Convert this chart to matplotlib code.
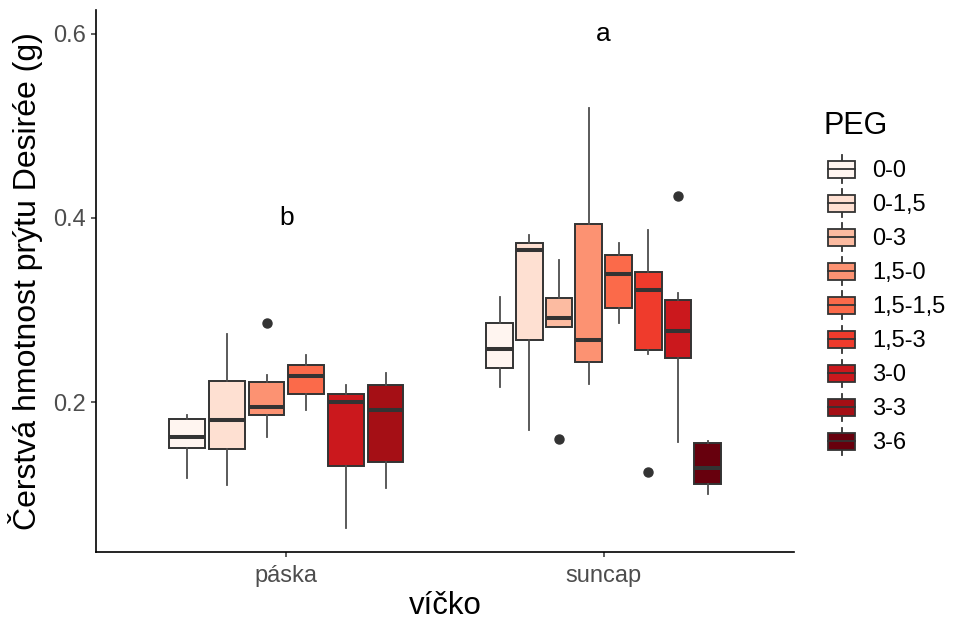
"""Boxplot čerstvé hmotnosti prýtu podle typu víčka a PEG varianty (ggplot vzhled)."""

import numpy as np
import matplotlib
matplotlib.use("Agg")
import matplotlib.pyplot as plt
from matplotlib.patches import Patch, Rectangle
from matplotlib.lines import Line2D
from matplotlib.legend_handler import HandlerBase

# --- Úrovně PEG a barvy (Reds, 9 tříd) ---
PEG_LEVELS = ["0-0", "0-1,5", "0-3", "1,5-0", "1,5-1,5", "1,5-3", "3-0", "3-3", "3-6"]
PEG_COLORS = ["#FFF5F0", "#FEE0D2", "#FCBBA1", "#FC9272", "#FB6A4A",
              "#EF3B2C", "#CB181D", "#A50F15", "#67000D"]

GROUPS = ["páska", "suncap"]

# --- páska ---
PASKA_PEG = ["0-0", "0-1,5", "1,5-0", "1,5-1,5", "3-0", "3-3"]
PASKA_WHISLO = [0.117, 0.110, 0.162, 0.191, 0.063, 0.107]
PASKA_Q1 = [0.150, 0.149, 0.186, 0.209, 0.130, 0.135]
PASKA_MED = [0.162, 0.180, 0.195, 0.228, 0.200, 0.191]
PASKA_Q3 = [0.182, 0.223, 0.222, 0.240, 0.209, 0.219]
PASKA_WHISHI = [0.186, 0.274, 0.229, 0.251, 0.218, 0.232]
PASKA_FLIERS = [[], [], [0.286], [], [], []]

# --- suncap ---
SUNCAP_PEG = ["0-0", "0-1,5", "0-3", "1,5-0", "1,5-1,5", "1,5-3", "3-0", "3-6"]
SUNCAP_WHISLO = [0.216, 0.170, 0.281, 0.220, 0.286, 0.252, 0.157, 0.100]
SUNCAP_Q1 = [0.237, 0.267, 0.281, 0.243, 0.302, 0.257, 0.248, 0.111]
SUNCAP_MED = [0.258, 0.365, 0.291, 0.267, 0.339, 0.322, 0.277, 0.128]
SUNCAP_Q3 = [0.286, 0.373, 0.313, 0.393, 0.360, 0.341, 0.311, 0.155]
SUNCAP_WHISHI = [0.314, 0.381, 0.354, 0.520, 0.373, 0.387, 0.319, 0.158]
SUNCAP_FLIERS = [[], [], [0.160], [], [], [0.124], [0.424], []]

# --- písmena signifikance ---
LETTERS = ["b", "a"]
LETTER_Y = [0.4, 0.6]

LINE = "#333333"
DODGE = 0.75
PADDING = 0.1


def make_stats(whislo, q1, med, q3, whishi, fliers):
    return [
        dict(whislo=a, q1=b, med=c, q3=d, whishi=e, fliers=np.array(f))
        for a, b, c, d, e, f in zip(whislo, q1, med, q3, whishi, fliers)
    ]


def dodge_positions(center, n):
    slot = DODGE / n
    pos = center - DODGE / 2 + slot * (np.arange(n) + 0.5)
    return pos, slot * (1 - PADDING)


class BoxKeyHandler(HandlerBase):
    """Klíč legendy ve stylu ggplot draw_key_boxplot."""

    def create_artists(self, legend, orig_handle, xdescent, ydescent,
                       width, height, fontsize, trans):
        x0, y0 = -xdescent, -ydescent
        fc = orig_handle.get_facecolor()
        whisk = Line2D([x0 + width / 2] * 2, [y0 + 0.1 * height, y0 + 0.9 * height],
                       color=LINE, lw=1.3, transform=trans)
        box = Rectangle((x0 + 0.1 * width, y0 + 0.25 * height), 0.8 * width, 0.5 * height,
                        facecolor=fc, edgecolor=LINE, lw=1.3, transform=trans)
        med = Line2D([x0 + 0.1 * width, x0 + 0.9 * width], [y0 + height / 2] * 2,
                     color=LINE, lw=1.3, transform=trans)
        return [whisk, box, med]


plt.rcParams["font.family"] = ["Liberation Sans", "DejaVu Sans"]
fig = plt.figure(figsize=(9.54, 6.21), dpi=100)
ax = fig.add_axes([96 / 954, 1 - 552 / 621, 698 / 954, 542 / 621])

color_of = dict(zip(PEG_LEVELS, PEG_COLORS))
groups = [
    (PASKA_PEG, make_stats(PASKA_WHISLO, PASKA_Q1, PASKA_MED, PASKA_Q3, PASKA_WHISHI, PASKA_FLIERS)),
    (SUNCAP_PEG, make_stats(SUNCAP_WHISLO, SUNCAP_Q1, SUNCAP_MED, SUNCAP_Q3, SUNCAP_WHISHI, SUNCAP_FLIERS)),
]

for gi, (levels, stats) in enumerate(groups):
    pos, w = dodge_positions(gi + 1, len(levels))
    res = ax.bxp(
        stats, positions=pos, widths=w, patch_artist=True, showcaps=False,
        boxprops=dict(edgecolor=LINE, linewidth=1.4),
        whiskerprops=dict(color="#4D4D4D", linewidth=1.3),
        medianprops=dict(color=LINE, linewidth=2.9, solid_capstyle="butt"),
        flierprops=dict(marker="o", markerfacecolor=LINE, markeredgecolor=LINE,
                        markersize=6.5),
        manage_ticks=False,
    )
    for patch, lvl in zip(res["boxes"], levels):
        patch.set_facecolor(color_of[lvl])

for i, (lab, yv) in enumerate(zip(LETTERS, LETTER_Y)):
    ax.text(i + 1, yv, lab, ha="center", va="center", fontsize=19, color="black")

ax.set_xlim(0.4, 2.6)
ax.set_ylim(0.037, 0.626)
ax.set_xticks([1, 2])
ax.set_xticklabels(GROUPS)
ax.set_yticks([0.2, 0.4, 0.6])
ax.set_yticklabels(["0.2", "0.4", "0.6"])
ax.tick_params(axis="both", length=3.5, width=1.1, color=LINE,
               labelsize=17, labelcolor="#4D4D4D")
ax.tick_params(axis="x", pad=6)
ax.tick_params(axis="y", pad=4)
for side in ("top", "right"):
    ax.spines[side].set_visible(False)
for side in ("left", "bottom"):
    ax.spines[side].set_linewidth(1.2)
    ax.spines[side].set_color("black")

ax.set_xlabel("víčko", fontsize=22.5, labelpad=3)
ax.set_ylabel("Čerstvá hmotnost prýtu Desirée (g)", fontsize=23, labelpad=7)

# legenda: titulek zvlášť, klíče 34 px vysoké bez mezer
fig.text(823.5 / 954, 1 - 134 / 621, "PEG", fontsize=22, ha="left", va="baseline")
handles = [Patch(facecolor=c, edgecolor=LINE) for c in PEG_COLORS]
leg = fig.legend(
    handles, PEG_LEVELS, loc="upper left",
    bbox_to_anchor=(824.5 / 954, 1 - 152 / 621), frameon=False,
    handler_map={Patch: BoxKeyHandler()}, fontsize=17,
    handlelength=1.44, handleheight=1.84, labelspacing=0.0,
    handletextpad=0.58, borderpad=0, borderaxespad=0,
)

fig.savefig("out.png", dpi=100)
